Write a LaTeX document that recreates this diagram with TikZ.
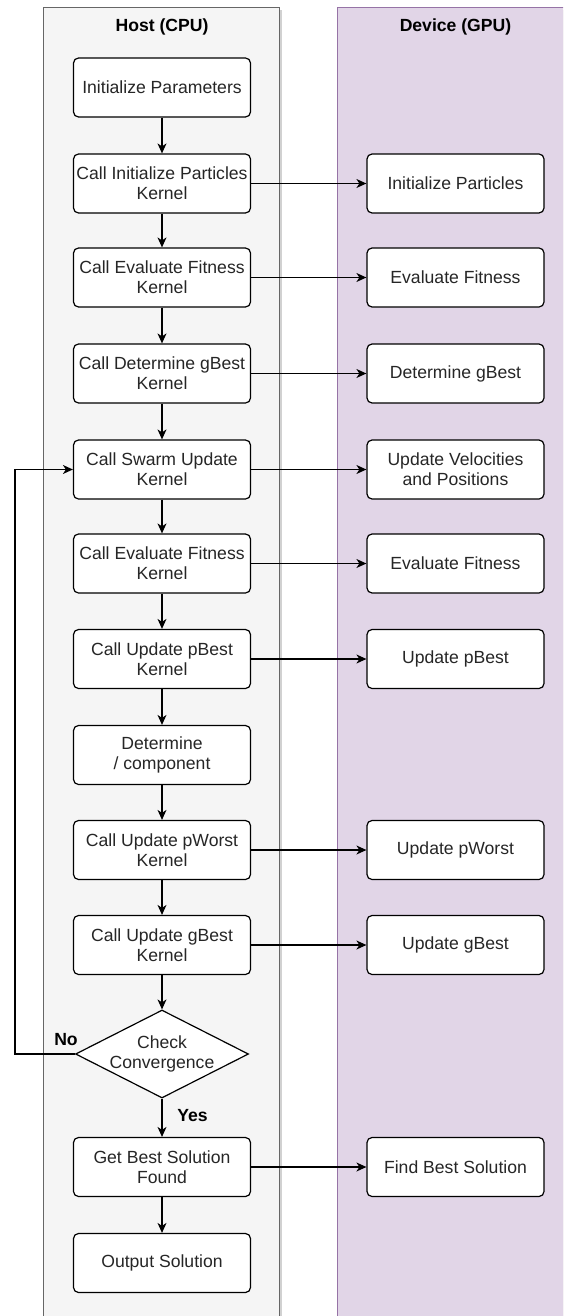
\documentclass[tikz,border=0pt]{standalone}
\usepackage{fontspec}
\setmainfont{Liberation Sans}
\usetikzlibrary{shapes.geometric,arrows.meta,positioning,shadows}
\definecolor{hostfill}{HTML}{F5F5F5}
\definecolor{hostline}{HTML}{666666}
\definecolor{devfill}{HTML}{E1D5E7}
\definecolor{devline}{HTML}{9673A6}

\begin{document}
\begin{tikzpicture}[
  x=0.5pt, y=-0.5pt,
  lane/.style={line width=0.5pt,
    drop shadow={shadow xshift=1.5pt, shadow yshift=-1pt, opacity=0.3, fill=black!60}},
  box/.style={
    draw, rectangle, rounded corners=2.5pt,
    minimum width=88.5pt, minimum height=29.5pt, inner sep=1pt,
    align=center, fill=white, line width=0.6pt,
    font=\fontsize{8.8}{10}\selectfont, text=black!85
  },
  decision/.style={
    draw, diamond, aspect=2, inner sep=-1.5pt,
    minimum width=86.5pt, minimum height=44pt,
    align=center, fill=white, line width=0.6pt,
    font=\fontsize{8.8}{10}\selectfont, text=black!85
  },
  edge/.style={-{Stealth[length=5pt,width=4.5pt,inset=1.5pt]}, line width=0.65pt},
  title/.style={font=\fontsize{8.8}{10}\selectfont\bfseries},
  lbl/.style={font=\fontsize{8.8}{10}\selectfont\bfseries}
]
\useasboundingbox (0,0) rectangle (563,1316);

% lanes
\begin{scope}
\clip (0,0) rectangle (563,1316);
\draw[lane, draw=hostline, fill=hostfill] (43,8) rectangle (279,1340);
\draw[lane, draw=devline, fill=devfill] (337.5,8) rectangle (573,1340);
\end{scope}
\node[title] (ht) at (162,27) {Host (CPU)};
\node[title] (dt) at (455.5,27) {Device (GPU)};

% host side
\node[box] (ip)   at (162,87.5)  {Initialize Parameters};
\node[box] (cip)  at (162,183.5) {Call Initialize Particles\\Kernel};
\node[box] (cef)  at (162,277.5) {Call Evaluate Fitness\\Kernel};
\node[box] (cdg)  at (162,373.5) {Call Determine gBest\\Kernel};
\node[box] (csu)  at (162,469.5) {Call Swarm Update\\Kernel};
\node[box] (cef2) at (162,563.5) {Call Evaluate Fitness\\Kernel};
\node[box] (cpb)  at (162,659)   {Call Update pBest\\Kernel};
\node[box] (dc)   at (162,755)   {Determine\\/ component};
\node[box] (cpw)  at (162,850)   {Call Update pWorst\\Kernel};
\node[box] (cgb)  at (162,945)   {Call Update gBest\\Kernel};
\node[decision] (cc) at (162,1054) {Check\\Convergence};
\node[box] (gbs)  at (162,1167)  {Get Best Solution\\Found};
\node[box] (out)  at (162,1263)  {Output Solution};

% device side
\node[box] (dip)  at (455.5,183.5) {Initialize Particles};
\node[box] (def)  at (455.5,277.5) {Evaluate Fitness};
\node[box] (ddg)  at (455.5,373.5) {Determine gBest};
\node[box] (duv)  at (455.5,469.5) {Update Velocities\\and Positions};
\node[box] (def2) at (455.5,563.5) {Evaluate Fitness};
\node[box] (dpb)  at (455.5,659)   {Update pBest};
\node[box] (dpw)  at (455.5,850)   {Update pWorst};
\node[box] (dgb)  at (455.5,945)   {Update gBest};
\node[box] (dfb)  at (455.5,1167)  {Find Best Solution};

% flow
\draw[edge] (ip) -- (cip);
\draw[edge] (cip) -- (cef);
\draw[edge] (cef) -- (cdg);
\draw[edge] (cdg) -- (csu);
\draw[edge] (csu) -- (cef2);
\draw[edge] (cef2) -- (cpb);
\draw[edge] (cpb) -- (dc);
\draw[edge] (dc) -- (cpw);
\draw[edge] (cpw) -- (cgb);
\draw[edge] (cgb) -- (cc);
\draw[edge] (cc) -- (gbs) node[lbl, pos=0.45, right=4pt] {Yes};
\draw[edge] (gbs) -- (out);

\coordinate (loop) at (15,1054);
\draw[edge] (cc.west) -- (loop) |- (csu.west);
\node[lbl] (no) at (66,1040) {No};

% kernel launches
\draw[edge] (cip) -- (dip);
\draw[edge] (cef) -- (def);
\draw[edge] (cdg) -- (ddg);
\draw[edge] (csu) -- (duv);
\draw[edge] (cef2) -- (def2);
\draw[edge] (cpb) -- (dpb);
\draw[edge] (cpw) -- (dpw);
\draw[edge] (cgb) -- (dgb);
\draw[edge] (gbs) -- (dfb);

\end{tikzpicture}
\end{document}
